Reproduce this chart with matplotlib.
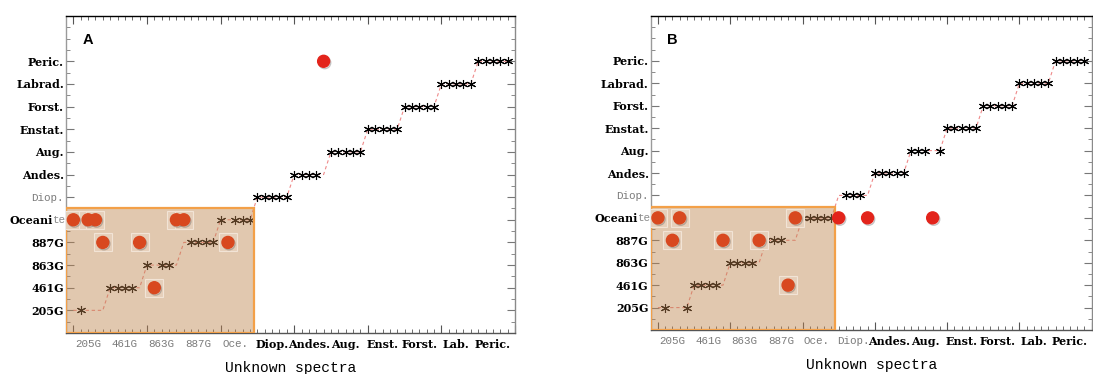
import matplotlib
matplotlib.use("Agg")
import matplotlib.pyplot as plt
import matplotlib.transforms as mtransforms
import matplotlib.patheffects as pe
from matplotlib.patches import Rectangle

# ---------------- data ----------------
y_categories = ["205G", "461G", "863G", "887G", "Oceanite", "Diop.", "Andes.",
                "Aug.", "Enstat.", "Forst.", "Labrad.", "Peric."]
x_categories = ["205G", "461G", "863G", "887G", "Oce.", "Diop.", "Andes.",
                "Aug.", "Enst.", "Forst.", "Lab.", "Peric."]

# spectrum index of each unknown spectrum (5 spectra per class)
spectrum_index = list(range(60))

# true class (1 = 205G ... 12 = Peric.) of every spectrum
true_class = [1, 1, 1, 1, 1, 2, 2, 2, 2, 2, 3, 3, 3, 3, 3, 4, 4, 4, 4, 4,
              5, 5, 5, 5, 5, 6, 6, 6, 6, 6, 7, 7, 7, 7, 7, 8, 8, 8, 8, 8,
              9, 9, 9, 9, 9, 10, 10, 10, 10, 10, 11, 11, 11, 11, 11,
              12, 12, 12, 12, 12]

# predicted class, panel A
pred_A = [5, 1, 5, 5, 4, 2, 2, 2, 2, 4, 3, 2, 3, 3, 5, 5, 4, 4, 4, 4,
          5, 4, 5, 5, 5, 6, 6, 6, 6, 6, 7, 7, 7, 7, 12, 8, 8, 8, 8, 8,
          9, 9, 9, 9, 9, 10, 10, 10, 10, 10, 11, 11, 11, 11, 11,
          12, 12, 12, 12, 12]

# predicted class, panel B
pred_B = [5, 1, 4, 5, 1, 2, 2, 2, 2, 4, 3, 3, 3, 3, 4, 4, 4, 4, 2, 5,
          5, 5, 5, 5, 5, 5, 6, 6, 6, 5, 7, 7, 7, 7, 7, 8, 8, 8, 5, 8,
          9, 9, 9, 9, 9, 10, 10, 10, 10, 10, 11, 11, 11, 11, 11,
          12, 12, 12, 12, 12]

x_label_centers = [2, 7, 12, 17, 22, 27, 32, 37, 42, 47, 52, 57]
y_positions = list(range(1, 13))

# highlighted (shaded) region: spectra/classes of the first five groups
shade_x = (-1, 24.5)
shade_y = (0, 5.5)

# ---------------- style ----------------
BOLD_FONT = "DejaVu Serif"
MONO_FONT = "Liberation Mono"
GRAY = "#7a7a7a"
RECT_FACE = (0.745, 0.52, 0.31)
RECT_EDGE = "#f3a048"
CIRC_IN = "#d8481f"
CIRC_OUT = "#e3241b"
LINE_COL = "#ef8a8a"
BOLD_SIZE = 8.0
MONO_SIZE = 7.8

fig = plt.figure(figsize=(10.93, 3.74), dpi=100)
axA = fig.add_axes([66 / 1093, 1 - 333 / 374, 449 / 1093, 317 / 374])
axB = fig.add_axes([650.7 / 1093, 1 - 330 / 374, 441 / 1093, 314 / 374])


def style_labels(labels, gray_set):
    for k, lab in enumerate(labels):
        if k in gray_set:
            lab.set_fontfamily(MONO_FONT)
            lab.set_fontsize(MONO_SIZE)
            lab.set_color(GRAY)
        else:
            lab.set_fontfamily(BOLD_FONT)
            lab.set_fontweight("bold")
            lab.set_fontsize(BOLD_SIZE)
            lab.set_color("black")


def draw_panel(ax, pred, letter, gray_x, gray_y):
    ax.set_xlim(-1, 60)
    ax.set_ylim(0, 14)

    # true class staircase
    ax.plot(spectrum_index, true_class, ls=(0, (3, 2.5)), color=LINE_COL,
            lw=0.8, zorder=2)

    # correctly classified spectra (asterisks)
    ok_x = [i for i, p, t in zip(spectrum_index, pred, true_class) if p == t]
    ok_y = [p for p, t in zip(pred, true_class) if p == t]
    ax.plot(ok_x, ok_y, ls="none", marker=(6, 2, 0), ms=6.5, mew=0.8,
            color="black", zorder=3)

    # shaded region on top (semi-transparent)
    ax.add_patch(Rectangle((shade_x[0], shade_y[0]), shade_x[1] - shade_x[0],
                           shade_y[1] - shade_y[0], facecolor=RECT_FACE,
                           alpha=0.45, edgecolor="none", zorder=4))
    ax.add_patch(Rectangle((shade_x[0], shade_y[0]), shade_x[1] - shade_x[0],
                           shade_y[1] - shade_y[0], facecolor="none",
                           edgecolor=RECT_EDGE, lw=1.6, zorder=4.5))

    # misclassified spectra (circles)
    bad = [(i, p) for i, p, t in zip(spectrum_index, pred, true_class) if p != t]
    inside = [(i, p) for i, p in bad if i < shade_x[1] and p < shade_y[1]]
    outside = [(i, p) for i, p in bad if not (i < shade_x[1] and p < shade_y[1])]
    shadow = [pe.SimpleLineShadow(offset=(0.8, -1.0), shadow_color="#555555",
                                  alpha=0.35), pe.Normal()]
    if inside:
        ax.plot([a for a, _ in inside], [b for _, b in inside], ls="none",
                marker="s", ms=13, mfc="#e6cfba", mec="#f2e4d6", mew=0.8,
                zorder=5)
        ax.plot([a for a, _ in inside], [b for _, b in inside], ls="none",
                marker="o", ms=8.6, mfc=CIRC_IN, mec=CIRC_IN, zorder=6,
                path_effects=shadow)
    if outside:
        ax.plot([a for a, _ in outside], [b for _, b in outside], ls="none",
                marker="o", ms=8.6, mfc=CIRC_OUT, mec=CIRC_OUT, zorder=6,
                path_effects=shadow)

    # ---- x axis: long ticks every 10, short every 1 ----
    ax.set_xticks(range(0, 61, 10))
    ax.set_xticks(range(-1, 61, 1), minor=True)
    ax.tick_params(axis="x", which="major", direction="in", length=6,
                   width=0.8, top=True, bottom=True, labelbottom=False,
                   color="#555555")
    ax.tick_params(axis="x", which="minor", direction="in", length=3,
                   width=0.6, top=True, bottom=True, color="#555555")

    # category labels under the axis
    sec = ax.secondary_xaxis("bottom")
    sec.set_xticks(x_label_centers, labels=x_categories)
    sec.tick_params(length=0, pad=4)
    sec.spines["bottom"].set_visible(False)
    style_labels(sec.get_xticklabels(), gray_x)

    # ---- y axis ----
    oce_idx = y_categories.index("Oceanite")
    shown = list(y_categories)
    shown[oce_idx] = "Oceani"
    ax.set_yticks(y_positions, labels=shown)
    ax.set_yticks([v / 2 for v in range(0, 29)], minor=True)
    ax.tick_params(axis="y", which="major", direction="in", length=6,
                   width=0.8, left=True, right=True, pad=1.5,
                   color="#777777")
    ax.tick_params(axis="y", which="minor", direction="in", length=3,
                   width=0.6, left=True, right=True, color="#777777")
    style_labels(ax.get_yticklabels(), gray_y)

    # "Oceanite": bold "Oceani" + faded "te"
    ax.yaxis.get_major_ticks()[oce_idx].set_pad(9.3)
    tr = mtransforms.offset_copy(ax.get_yaxis_transform(), fig=fig,
                                 x=-0.5, y=0, units="points")
    ax.text(0, y_positions[oce_idx], "te", transform=tr, ha="right",
            va="center", fontfamily=MONO_FONT, fontsize=MONO_SIZE,
            color="#8a8a8a", clip_on=False)

    # spines
    ax.spines["top"].set_color("black")
    ax.spines["left"].set_color("#9a9a9a")
    ax.spines["right"].set_color("#8a8a8a")
    ax.spines["bottom"].set_color("#555555")
    for s in ax.spines.values():
        s.set_linewidth(1.0)

    ax.set_xlabel("Unknown spectra", fontfamily=MONO_FONT, fontsize=10.5,
                  labelpad=17)
    ax.text(0.05, 0.925, letter, transform=ax.transAxes, ha="center",
            va="center", fontfamily="Liberation Sans", fontweight="bold",
            fontsize=10.5)


draw_panel(axA, pred_A, "A", gray_x={0, 1, 2, 3, 4}, gray_y={5})
draw_panel(axB, pred_B, "B", gray_x={0, 1, 2, 3, 4, 5}, gray_y={5})

fig.savefig("out.png", dpi=100)
